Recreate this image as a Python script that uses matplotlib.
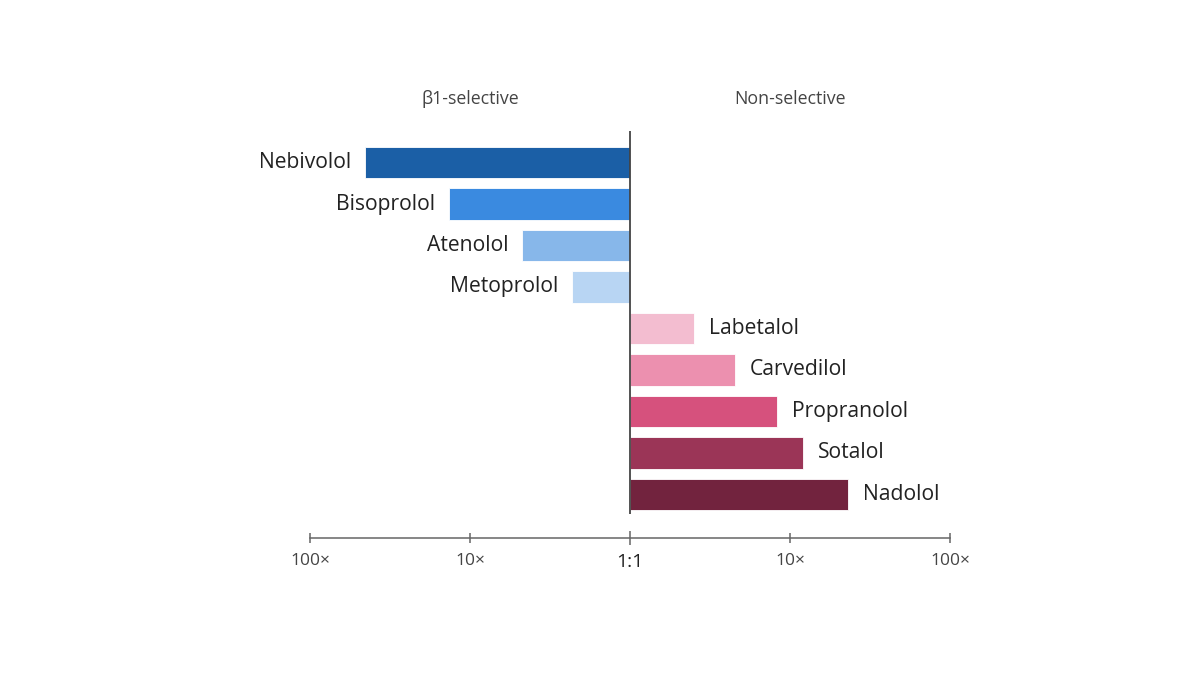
import numpy as np
import matplotlib.pyplot as plt

# Selectivity ratios (fold, log scale)
drugs = ["Nebivolol", "Bisoprolol", "Atenolol", "Metoprolol",
         "Labetalol", "Carvedilol", "Propranolol", "Sotalol", "Nadolol"]
ratios = [45, 13.5, 4.7, 2.3, 2.5, 4.5, 8.3, 12, 23]
side = [-1, -1, -1, -1, 1, 1, 1, 1, 1]   # -1 = beta1-selective, 1 = non-selective
colors = ["#1b5fa6", "#3a8ae0", "#87b7ea", "#b8d5f3",
          "#f3bdd0", "#ec90af", "#d6517d", "#9b3557", "#72233e"]

tick_pos = [-2, -1, 0, 1, 2]
tick_labels = ["100×", "10×", "1:1", "10×", "100×"]
group_titles = ["β1-selective", "Non-selective"]

plt.rcParams["font.family"] = ["Open Sans", "DejaVu Sans"]

fig = plt.figure(figsize=(12, 6.75), dpi=100)
ax = fig.add_axes([310 / 1200, 1 - 538 / 675, 640 / 1200, 407 / 675])

y = np.arange(len(drugs))
logv = np.log10(ratios) * np.array(side)

ax.barh(y, logv, height=0.76, color=colors, edgecolor="white",
        linewidth=0.6, zorder=2)

for yi, v, name, s in zip(y, logv, drugs, side):
    if s < 0:
        ax.annotate(name, (v, yi), xytext=(-10, 0), textcoords="offset points",
                    ha="right", va="center", fontsize=15.2, color="#222222")
    else:
        ax.annotate(name, (v, yi), xytext=(11, 0), textcoords="offset points",
                    ha="left", va="center", fontsize=15.2, color="#222222")

# centre line
ax.vlines(0, -0.76, 8.47, color="#444444", linewidth=1.3, zorder=3)

ax.set_xlim(-2, 2)
ax.set_ylim(9.05, -0.76)

for sp in ["top", "left", "right"]:
    ax.spines[sp].set_visible(False)
ax.spines["bottom"].set_color("#666666")
ax.spines["bottom"].set_linewidth(1.1)

ax.set_yticks([])
ax.set_xticks(tick_pos)
ax.set_xticklabels(tick_labels)
ax.tick_params(axis="x", direction="inout", length=7.5, width=1.1,
               colors="#666666", labelcolor="#444444", labelsize=12.5, pad=7)
ticks = ax.xaxis.get_major_ticks()
ticks[2].tick1line.set_markersize(10.5)
ticks[2].tick1line.set_color("#333333")
lbl = ax.get_xticklabels()[2]
lbl.set_fontsize(14)
lbl.set_color("#222222")

ax.text(-1, -1.53, group_titles[0], ha="center", va="center",
        fontsize=12.8, color="#444444")
ax.text(1, -1.53, group_titles[1], ha="center", va="center",
        fontsize=12.8, color="#444444")

fig.savefig("out.png", dpi=100)
